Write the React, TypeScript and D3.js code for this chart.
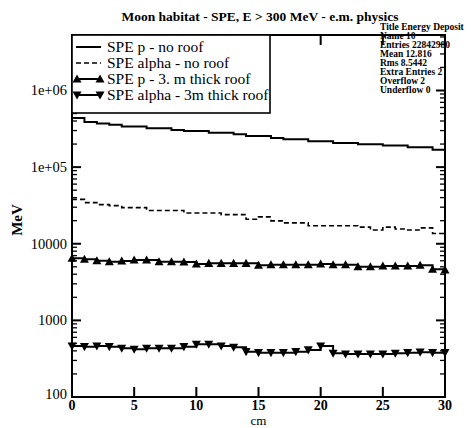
import React from 'react';
import * as d3 from 'd3';

const title = 'Moon habitat - SPE, E > 300 MeV - e.m. physics';
const xLabel = 'cm';
const yLabel = 'MeV';
const xTicks = [0, 5, 10, 15, 20, 25, 30];
const yDecades = [100, 1000, 10000, 1e5, 1e6];
const yTickLabels = ['100', '1000', '10000', '1e+05', '1e+06'];

// 30 histogram bins (0..30 cm, width 1)
const pNoRoof = [4.38e5, 3.89e5, 3.70e5, 3.56e5, 3.38e5, 3.38e5, 3.22e5, 3.22e5, 3.06e5, 2.97e5, 2.97e5, 2.80e5, 2.80e5, 2.69e5, 2.55e5, 2.55e5, 2.40e5, 2.31e5, 2.31e5, 2.18e5, 2.18e5, 2.07e5, 2.07e5, 1.99e5, 1.99e5, 1.91e5, 1.91e5, 1.82e5, 1.82e5, 1.68e5];
const alphaNoRoof = [3.79e4, 3.44e4, 3.24e4, 3.14e4, 2.96e4, 2.96e4, 2.71e4, 2.71e4, 2.71e4, 2.52e4, 2.52e4, 2.52e4, 2.40e4, 2.40e4, 2.09e4, 2.24e4, 1.99e4, 1.87e4, 1.87e4, 1.72e4, 1.72e4, 1.72e4, 1.72e4, 1.65e4, 1.51e4, 1.65e4, 1.56e4, 1.51e4, 1.61e4, 1.36e4];
// 31 points at integer cm
const pRoof = [6470, 6280, 6020, 5840, 5960, 6140, 6140, 5840, 5840, 5780, 5450, 5560, 5560, 5560, 5560, 5240, 5330, 5330, 5330, 5330, 5450, 5330, 5330, 5020, 5020, 5130, 5130, 5130, 5240, 4650, 4550];
const alphaRoof = [463, 454, 463, 454, 433, 420, 433, 433, 433, 454, 488, 488, 463, 446, 390, 379, 379, 379, 390, 411, 463, 372, 364, 364, 364, 364, 371, 379, 385, 379, 379];

const legendLabels = ['SPE p - no roof', 'SPE alpha - no roof', 'SPE p - 3. m thick roof', 'SPE alpha - 3m thick roof'];
const statsLines = ['Title Energy Deposit', 'Name 10', 'Entries 22842980', 'Mean 12.816', 'Rms 8.5442', 'Extra Entries 2', 'Overflow 2', 'Underflow 0'];

const W = 471;
const H = 428;
const L = 72, R = 445, T = 35, B = 397;
const FONT = '"Liberation Serif", "DejaVu Serif", serif';

function triUp(cx: number, cy: number, s = 4.5) {
  return `M${cx},${cy - s}L${cx + s},${cy + s * 0.8}L${cx - s},${cy + s * 0.8}Z`;
}
function triDown(cx: number, cy: number, s = 4.5) {
  return `M${cx},${cy + s}L${cx + s},${cy - s * 0.8}L${cx - s},${cy - s * 0.8}Z`;
}

export default function App() {
  const x = d3.scaleLinear().domain([0, 30]).range([L, R]);
  const y = d3.scaleLog().domain([100, 5.3e6]).range([B, T]);

  const stepLine = d3.line<[number, number]>().x(d => x(d[0])).y(d => y(d[1])).curve(d3.curveStepAfter);
  const histPts = (arr: number[]) => [...arr.map((v, i) => [i, v] as [number, number]), [arr.length, arr[arr.length - 1]] as [number, number]];
  const ptPts = (arr: number[]) => arr.map((v, i) => [i, v] as [number, number]);

  const minorTicks: number[] = [];
  for (let d = 100; d < 1e6 * 10; d *= 10) {
    for (let k = 2; k <= 9; k++) {
      const v = d * k;
      if (v <= 5.3e6) minorTicks.push(v);
    }
  }

  const legendRows = [47, 63, 79, 95];

  return (
    <svg width={W} height={H} style={{ position: 'absolute', left: 0, top: 0, background: '#fff' }} fontFamily={FONT}>
      <rect x={0} y={0} width={W} height={H} fill="#fff" />
      <text x={260} y={21} textAnchor="middle" fontSize={13.5} fontWeight="bold">{title}</text>

      {/* data */}
      <path d={stepLine(histPts(pNoRoof)) || ''} fill="none" stroke="#000" strokeWidth={2} />
      <path d={stepLine(histPts(alphaNoRoof)) || ''} fill="none" stroke="#000" strokeWidth={1.6} strokeDasharray="5,3" />
      <path d={stepLine(ptPts(pRoof)) || ''} fill="none" stroke="#000" strokeWidth={2} />
      {pRoof.map((v, i) => <path key={'u' + i} d={triUp(x(i), y(v))} fill="#000" />)}
      <path d={stepLine(ptPts(alphaRoof)) || ''} fill="none" stroke="#000" strokeWidth={2} />
      {alphaRoof.map((v, i) => <path key={'d' + i} d={triDown(x(i), y(v))} fill="#000" />)}

      {/* frame */}
      <rect x={L} y={T} width={R - L} height={B - T} fill="none" stroke="#000" strokeWidth={2} />

      {/* x ticks */}
      {xTicks.map(t => (
        <g key={'x' + t}>
          <line x1={x(t)} x2={x(t)} y1={B} y2={B - 10} stroke="#000" strokeWidth={2} />
          <line x1={x(t)} x2={x(t)} y1={T} y2={T + 10} stroke="#000" strokeWidth={2} />
          <text x={x(t)} y={B + 13} textAnchor="middle" fontSize={14} fontWeight="bold">{t}</text>
        </g>
      ))}
      {/* y ticks */}
      {yDecades.map((t, i) => (
        <g key={'y' + t}>
          <line x1={L} x2={L + 9} y1={y(t)} y2={y(t)} stroke="#000" strokeWidth={2} />
          <line x1={R} x2={R - 9} y1={y(t)} y2={y(t)} stroke="#000" strokeWidth={2} />
          <text x={L - 5} y={y(t) + 5 - (i === 0 ? 3 : 0)} textAnchor="end" fontSize={14.5}>{yTickLabels[i]}</text>
        </g>
      ))}
      {minorTicks.map(t => (
        <g key={'m' + t}>
          <line x1={L} x2={L + 5} y1={y(t)} y2={y(t)} stroke="#000" strokeWidth={1.3} />
          <line x1={R} x2={R - 5} y1={y(t)} y2={y(t)} stroke="#000" strokeWidth={1.3} />
        </g>
      ))}

      <text x={(L + R) / 2} y={425} textAnchor="middle" fontSize={13}>{xLabel}</text>
      <text transform={`translate(22,${(T + B) / 2 + 4}) rotate(-90)`} textAnchor="middle" fontSize={15} fontWeight="bold">{yLabel}</text>

      {/* legend */}
      <rect x={L} y={T} width={270 - L} height={113 - T} fill="#fff" stroke="#000" strokeWidth={1.6} />
      {legendRows.map((ry, i) => (
        <g key={'l' + i}>
          <line x1={76} x2={101} y1={ry} y2={ry} stroke="#000" strokeWidth={i === 1 ? 1.5 : 2} strokeDasharray={i === 1 ? '5,3' : undefined} />
          {i === 2 && <><path d={triUp(77, ry)} fill="#000" /><path d={triUp(100, ry)} fill="#000" /></>}
          {i === 3 && <><path d={triDown(77, ry)} fill="#000" /><path d={triDown(100, ry)} fill="#000" /></>}
          <text x={107} y={ry + 5} fontSize={15.5}>{legendLabels[i]}</text>
        </g>
      ))}

      {/* stats box */}
      {statsLines.map((s, i) => (
        <text key={'s' + i} x={380} y={30 + i * 9} fontSize={9.5} fontWeight="bold">{s}</text>
      ))}
    </svg>
  );
}
